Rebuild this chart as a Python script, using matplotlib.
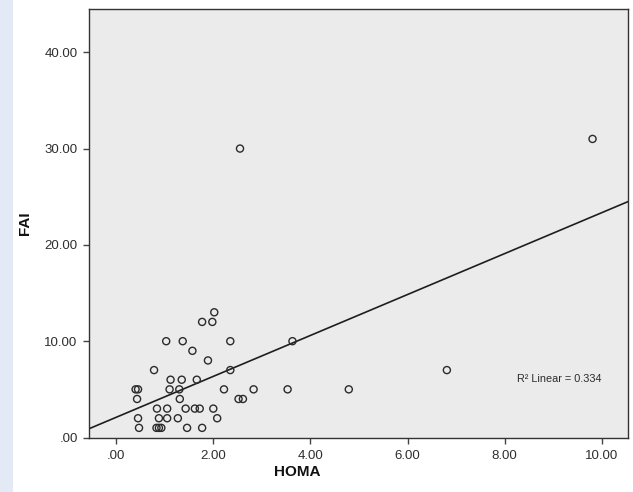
import numpy as np
import matplotlib
matplotlib.use('Agg')
import matplotlib.pyplot as plt
from matplotlib.patches import Rectangle

plt.rcParams['font.family'] = ['Liberation Sans', 'DejaVu Sans']

# HOMA vs FAI, one point per subject
homa = [2.02, 1.77, 1.98, 1.03, 1.37, 2.35, 3.63, 1.57, 1.89, 0.78,
        2.35, 6.81, 1.12, 1.35, 1.66, 0.40, 0.45, 1.10, 1.30, 2.22,
        2.83, 3.53, 4.79, 0.43, 1.31, 2.52, 2.61, 0.84, 1.05, 1.43,
        1.62, 1.72, 2.00, 0.45, 0.88, 1.05, 1.27, 2.08, 0.47, 0.83,
        0.88, 0.93, 1.46, 1.77, 2.55, 9.81]
fai = [13, 12, 12, 10, 10, 10, 10, 9, 8, 7,
       7, 7, 6, 6, 6, 5, 5, 5, 5, 5,
       5, 5, 5, 4, 4, 4, 4, 3, 3, 3,
       3, 3, 3, 2, 2, 2, 2, 2, 1, 1,
       1, 1, 1, 1, 30, 31]
r2_linear = 0.334

x_ticks = [0, 2, 4, 6, 8, 10]
y_ticks = [0, 10, 20, 30, 40]

fig = plt.figure(figsize=(6.33, 4.92), dpi=100)
fig.patches.append(Rectangle((0, 0), 12.7 / 633, 1, transform=fig.transFigure,
                             facecolor='#e3eaf6', edgecolor='none', zorder=0))

ax = fig.add_axes([88.5 / 633, 1 - 437.5 / 492, 539.5 / 633, 428.2 / 492])
ax.set_facecolor('#ebebeb')

ax.scatter(homa, fai, s=26, facecolors='none', edgecolors='#2b2b2b',
           linewidths=1.0, zorder=3)

# least squares fit line across the whole x range
slope, intercept = np.polyfit(homa, fai, 1)
xlim = (-0.57, 10.54)
xs = np.array(xlim)
ax.plot(xs, intercept + slope * xs, color='#1e1e1e', lw=1.2, zorder=2)

ax.text(8.25, 6.07, f'R\u00b2 Linear = {r2_linear:.3f}', fontsize=7.8,
        color='#2b2b2b', ha='left', va='center')

ax.set_xlim(*xlim)
ax.set_ylim(0, 44.46)
ax.set_xticks(x_ticks)
ax.set_yticks(y_ticks)
ax.set_xticklabels([f'{v:.2f}'.lstrip('0') if v == 0 else f'{v:.2f}' for v in x_ticks])
ax.set_yticklabels([f'{v:.2f}'.lstrip('0') if v == 0 else f'{v:.2f}' for v in y_ticks])
ax.tick_params(axis='both', length=4.3, width=1, color='#444444',
               labelsize=9.5, labelcolor='#2e2e2e')
ax.tick_params(axis='x', pad=5)
ax.tick_params(axis='y', pad=3.5)

for sp in ax.spines.values():
    sp.set_color('#333333')
    sp.set_linewidth(1)

ax.set_xlabel('HOMA', fontsize=11, fontweight='bold', color='#111111', va='center')
ax.set_ylabel('FAI', fontsize=11, fontweight='bold', color='#111111', va='center')
ax.xaxis.set_label_coords((297 - 88.5) / 539.5, (437.5 - 472) / 428.2)
ax.yaxis.set_label_coords((25 - 88.5) / 539.5, (437.5 - 223) / 428.2)

fig.savefig('out.png', dpi=100)
